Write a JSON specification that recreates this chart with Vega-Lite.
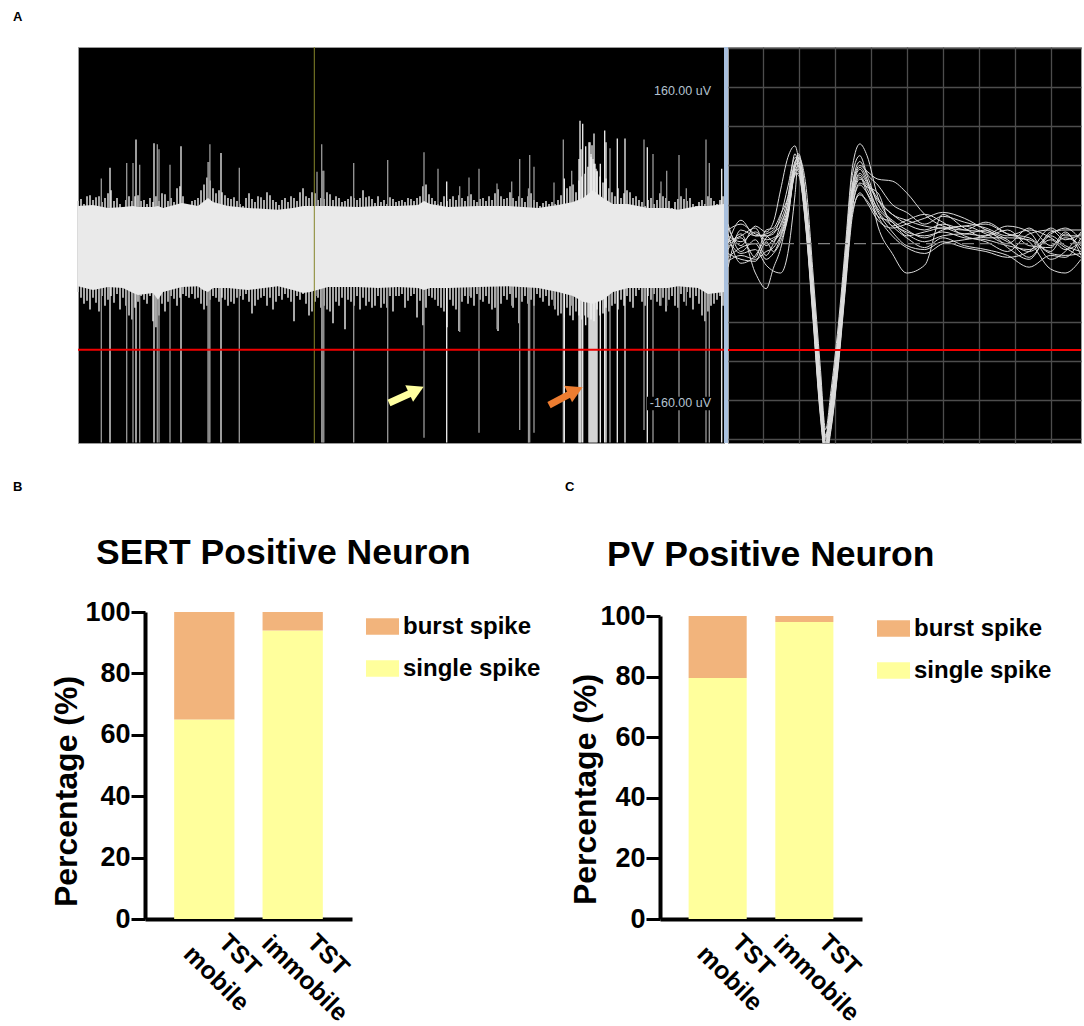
{"$schema":"https://vega.github.io/schema/vega-lite/v6.json","padding":{"left":12,"top":10,"right":0,"bottom":0},"background":"white","config":{"font":"Liberation Sans","view":{"stroke":null}},
"datasets":{
"tips":[{"t":0,"hi":47,"lo":-46},{"t":3,"hi":49,"lo":-52},{"t":6,"hi":44,"lo":-58},{"t":9,"hi":52,"lo":-55},{"t":12,"hi":53,"lo":-64},{"t":15,"hi":48,"lo":-52},{"t":18,"hi":51,"lo":-57},{"t":21,"hi":52,"lo":-66},{"t":24,"hi":46,"lo":-50},{"t":27,"hi":50,"lo":-60},{"t":30,"hi":55,"lo":-54},{"t":33,"hi":58,"lo":-50},{"t":36,"hi":47,"lo":-57},{"t":39,"hi":50,"lo":-48},{"t":42,"hi":44,"lo":-64},{"t":45,"hi":41,"lo":-52},{"t":48,"hi":48,"lo":-60},{"t":51,"hi":52,"lo":-70},{"t":54,"hi":47,"lo":-74},{"t":57,"hi":52,"lo":-62},{"t":60,"hi":53,"lo":-56},{"t":63,"hi":47,"lo":-50},{"t":66,"hi":48,"lo":-54},{"t":69,"hi":44,"lo":-58},{"t":72,"hi":50,"lo":-50},{"t":75,"hi":46,"lo":-76},{"t":78,"hi":52,"lo":-82},{"t":81,"hi":47,"lo":-70},{"t":84,"hi":55,"lo":-58},{"t":87,"hi":54,"lo":-66},{"t":90,"hi":47,"lo":-56},{"t":93,"hi":50,"lo":-50},{"t":96,"hi":46,"lo":-53},{"t":99,"hi":60,"lo":-60},{"t":102,"hi":62,"lo":-52},{"t":105,"hi":52,"lo":-48},{"t":108,"hi":44,"lo":-50},{"t":111,"hi":42,"lo":-52},{"t":114,"hi":47,"lo":-48},{"t":117,"hi":48,"lo":-53},{"t":120,"hi":50,"lo":-52},{"t":123,"hi":58,"lo":-58},{"t":126,"hi":64,"lo":-64},{"t":129,"hi":71,"lo":-60},{"t":132,"hi":68,"lo":-54},{"t":135,"hi":60,"lo":-50},{"t":138,"hi":55,"lo":-52},{"t":141,"hi":58,"lo":-56},{"t":144,"hi":56,"lo":-52},{"t":147,"hi":53,"lo":-54},{"t":150,"hi":50,"lo":-60},{"t":153,"hi":49,"lo":-56},{"t":156,"hi":51,"lo":-58},{"t":159,"hi":47,"lo":-52},{"t":162,"hi":44,"lo":-50},{"t":165,"hi":42,"lo":-54},{"t":168,"hi":50,"lo":-48},{"t":171,"hi":55,"lo":-56},{"t":174,"hi":49,"lo":-68},{"t":177,"hi":46,"lo":-60},{"t":180,"hi":52,"lo":-54},{"t":183,"hi":51,"lo":-52},{"t":186,"hi":48,"lo":-50},{"t":189,"hi":56,"lo":-60},{"t":192,"hi":53,"lo":-52},{"t":195,"hi":48,"lo":-64},{"t":198,"hi":46,"lo":-56},{"t":201,"hi":43,"lo":-50},{"t":204,"hi":48,"lo":-54},{"t":207,"hi":50,"lo":-48},{"t":210,"hi":46,"lo":-52},{"t":213,"hi":52,"lo":-56},{"t":216,"hi":50,"lo":-76},{"t":219,"hi":47,"lo":-50},{"t":222,"hi":56,"lo":-54},{"t":225,"hi":60,"lo":-48},{"t":228,"hi":52,"lo":-58},{"t":231,"hi":50,"lo":-70},{"t":234,"hi":56,"lo":-66},{"t":237,"hi":55,"lo":-56},{"t":240,"hi":48,"lo":-52},{"t":243,"hi":50,"lo":-62},{"t":246,"hi":49,"lo":-60},{"t":249,"hi":56,"lo":-64},{"t":252,"hi":54,"lo":-66},{"t":255,"hi":48,"lo":-78},{"t":258,"hi":52,"lo":-56},{"t":261,"hi":50,"lo":-60},{"t":264,"hi":46,"lo":-52},{"t":267,"hi":47,"lo":-84},{"t":270,"hi":49,"lo":-54},{"t":273,"hi":52,"lo":-56},{"t":276,"hi":50,"lo":-60},{"t":279,"hi":48,"lo":-50},{"t":282,"hi":50,"lo":-64},{"t":285,"hi":58,"lo":-52},{"t":288,"hi":51,"lo":-60},{"t":291,"hi":52,"lo":-56},{"t":294,"hi":49,"lo":-62},{"t":297,"hi":45,"lo":-60},{"t":300,"hi":52,"lo":-50},{"t":303,"hi":46,"lo":-62},{"t":306,"hi":48,"lo":-58},{"t":309,"hi":44,"lo":-62},{"t":312,"hi":51,"lo":-50},{"t":315,"hi":49,"lo":-66},{"t":318,"hi":46,"lo":-50},{"t":321,"hi":47,"lo":-50},{"t":324,"hi":48,"lo":-48},{"t":327,"hi":46,"lo":-62},{"t":330,"hi":50,"lo":-55},{"t":333,"hi":49,"lo":-50},{"t":336,"hi":47,"lo":-48},{"t":339,"hi":50,"lo":-72},{"t":342,"hi":52,"lo":-55},{"t":345,"hi":62,"lo":-80},{"t":348,"hi":64,"lo":-62},{"t":351,"hi":54,"lo":-50},{"t":354,"hi":50,"lo":-52},{"t":357,"hi":47,"lo":-54},{"t":360,"hi":44,"lo":-60},{"t":363,"hi":46,"lo":-62},{"t":366,"hi":52,"lo":-66},{"t":369,"hi":47,"lo":-82},{"t":372,"hi":49,"lo":-54},{"t":375,"hi":52,"lo":-60},{"t":378,"hi":48,"lo":-64},{"t":381,"hi":53,"lo":-86},{"t":384,"hi":50,"lo":-56},{"t":387,"hi":47,"lo":-50},{"t":390,"hi":52,"lo":-58},{"t":393,"hi":54,"lo":-52},{"t":396,"hi":48,"lo":-60},{"t":399,"hi":46,"lo":-48},{"t":402,"hi":49,"lo":-54},{"t":405,"hi":50,"lo":-56},{"t":408,"hi":47,"lo":-50},{"t":411,"hi":52,"lo":-58},{"t":414,"hi":48,"lo":-64},{"t":417,"hi":55,"lo":-62},{"t":420,"hi":59,"lo":-86},{"t":423,"hi":52,"lo":-58},{"t":426,"hi":49,"lo":-50},{"t":429,"hi":50,"lo":-54},{"t":432,"hi":56,"lo":-48},{"t":435,"hi":50,"lo":-62},{"t":438,"hi":47,"lo":-52},{"t":441,"hi":52,"lo":-78},{"t":444,"hi":50,"lo":-56},{"t":447,"hi":46,"lo":-50},{"t":450,"hi":52,"lo":-58},{"t":453,"hi":55,"lo":-54},{"t":456,"hi":48,"lo":-60},{"t":459,"hi":46,"lo":-48},{"t":462,"hi":42,"lo":-52},{"t":465,"hi":45,"lo":-56},{"t":468,"hi":47,"lo":-50},{"t":471,"hi":44,"lo":-60},{"t":474,"hi":46,"lo":-54},{"t":477,"hi":44,"lo":-64},{"t":480,"hi":48,"lo":-70},{"t":483,"hi":53,"lo":-68},{"t":486,"hi":58,"lo":-72},{"t":489,"hi":60,"lo":-62},{"t":492,"hi":62,"lo":-70},{"t":495,"hi":64,"lo":-75},{"t":498,"hi":56,"lo":-66},{"t":501,"hi":68,"lo":-70},{"t":504,"hi":72,"lo":-74},{"t":507,"hi":75,"lo":-70},{"t":510,"hi":82,"lo":-72},{"t":513,"hi":92,"lo":-74},{"t":516,"hi":85,"lo":-76},{"t":519,"hi":78,"lo":-64},{"t":522,"hi":72,"lo":-70},{"t":525,"hi":66,"lo":-68},{"t":528,"hi":70,"lo":-62},{"t":531,"hi":60,"lo":-66},{"t":534,"hi":56,"lo":-60},{"t":537,"hi":52,"lo":-58},{"t":540,"hi":60,"lo":-64},{"t":543,"hi":50,"lo":-54},{"t":546,"hi":55,"lo":-60},{"t":549,"hi":58,"lo":-50},{"t":552,"hi":56,"lo":-56},{"t":555,"hi":50,"lo":-62},{"t":558,"hi":52,"lo":-50},{"t":561,"hi":48,"lo":-44},{"t":564,"hi":46,"lo":-56},{"t":567,"hi":42,"lo":-60},{"t":570,"hi":48,"lo":-50},{"t":573,"hi":50,"lo":-54},{"t":576,"hi":44,"lo":-48},{"t":579,"hi":48,"lo":-56},{"t":582,"hi":55,"lo":-60},{"t":585,"hi":52,"lo":-52},{"t":588,"hi":50,"lo":-66},{"t":591,"hi":47,"lo":-54},{"t":594,"hi":40,"lo":-50},{"t":597,"hi":46,"lo":-60},{"t":600,"hi":49,"lo":-62},{"t":603,"hi":52,"lo":-48},{"t":606,"hi":49,"lo":-56},{"t":609,"hi":47,"lo":-46},{"t":612,"hi":50,"lo":-52},{"t":615,"hi":44,"lo":-64},{"t":618,"hi":42,"lo":-50},{"t":621,"hi":46,"lo":-58},{"t":624,"hi":48,"lo":-70},{"t":627,"hi":44,"lo":-76},{"t":630,"hi":52,"lo":-66},{"t":633,"hi":50,"lo":-60},{"t":636,"hi":47,"lo":-58},{"t":639,"hi":44,"lo":-54},{"t":642,"hi":48,"lo":-50},{"t":645,"hi":52,"lo":-60}],
"spikes":[{"t":23.3,"top":70,"bottom":-200,"tone":"dim"},{"t":32,"top":81,"bottom":-200,"tone":"bright"},{"t":48.7,"top":86,"bottom":-200,"tone":"dim"},{"t":55,"top":86,"bottom":-200,"tone":"dim"},{"t":58,"top":110,"bottom":-200,"tone":"bright"},{"t":61.7,"top":84,"bottom":-200,"tone":"dim"},{"t":76,"top":106,"bottom":-200,"tone":"bright"},{"t":79.3,"top":105,"bottom":-200,"tone":"dim"},{"t":81,"top":100,"bottom":-200,"tone":"dim"},{"t":92,"top":84,"bottom":-200,"tone":"dim"},{"t":103,"top":103,"bottom":-200,"tone":"bright"},{"t":130,"top":87,"bottom":-200,"tone":"dim"},{"t":131,"top":87,"bottom":-200,"tone":"dim"},{"t":131.9,"top":105,"bottom":-200,"tone":"dim"},{"t":143,"top":96,"bottom":-200,"tone":"bright"},{"t":161.3,"top":81,"bottom":-200,"tone":"dim"},{"t":239,"top":77,"bottom":-50,"tone":"dim"},{"t":243.7,"top":105,"bottom":-200,"tone":"dim"},{"t":244.8,"top":78,"bottom":-200,"tone":"dim"},{"t":245.8,"top":78,"bottom":-200,"tone":"dim"},{"t":275.7,"top":86,"bottom":-200,"tone":"dim"},{"t":309.7,"top":89,"bottom":-200,"tone":"dim"},{"t":346,"top":97,"bottom":-195,"tone":"dim"},{"t":360,"top":80,"bottom":-60,"tone":"dim"},{"t":368.7,"top":67,"bottom":-200,"tone":"bright"},{"t":381.7,"top":62,"bottom":-87,"tone":"dim"},{"t":391,"top":71,"bottom":-50,"tone":"dim"},{"t":401,"top":80,"bottom":-190,"tone":"dim"},{"t":419,"top":65,"bottom":-84,"tone":"dim"},{"t":433.7,"top":67,"bottom":-60,"tone":"dim"},{"t":441.7,"top":90,"bottom":-187,"tone":"dim"},{"t":450.5,"top":60,"bottom":-200,"tone":"dim"},{"t":451.7,"top":94,"bottom":-200,"tone":"dim"},{"t":456,"top":82,"bottom":-190,"tone":"dim"},{"t":476,"top":66,"bottom":-60,"tone":"dim"},{"t":485.3,"top":110,"bottom":-200,"tone":"dim"},{"t":486.3,"top":70,"bottom":-200,"tone":"bright"},{"t":493.7,"top":78,"bottom":-60,"tone":"dim"},{"t":501,"top":90,"bottom":-200,"tone":"bright"},{"t":502,"top":129,"bottom":-200,"tone":"bright"},{"t":503,"top":100,"bottom":-200,"tone":"bright"},{"t":504.7,"top":126,"bottom":-200,"tone":"bright"},{"t":507.7,"top":103,"bottom":-80,"tone":"bright"},{"t":511,"top":107,"bottom":-200,"tone":"bright"},{"t":512,"top":107,"bottom":-200,"tone":"bright"},{"t":513,"top":95,"bottom":-200,"tone":"bright"},{"t":514,"top":104,"bottom":-200,"tone":"bright"},{"t":515,"top":90,"bottom":-200,"tone":"bright"},{"t":516,"top":116,"bottom":-200,"tone":"bright"},{"t":517,"top":85,"bottom":-200,"tone":"bright"},{"t":518,"top":80,"bottom":-200,"tone":"bright"},{"t":519,"top":77,"bottom":-200,"tone":"bright"},{"t":522.3,"top":85,"bottom":-200,"tone":"bright"},{"t":526.7,"top":119,"bottom":-200,"tone":"bright"},{"t":528,"top":107,"bottom":-200,"tone":"bright"},{"t":532,"top":101,"bottom":-200,"tone":"dim"},{"t":539.3,"top":111,"bottom":-200,"tone":"bright"},{"t":547,"top":111,"bottom":-200,"tone":"bright"},{"t":566,"top":110,"bottom":-187,"tone":"dim"},{"t":569.3,"top":102,"bottom":-200,"tone":"bright"},{"t":575,"top":95,"bottom":-200,"tone":"dim"},{"t":583,"top":67,"bottom":-60,"tone":"dim"},{"t":588.7,"top":78,"bottom":-60,"tone":"dim"},{"t":601,"top":94,"bottom":-200,"tone":"dim"},{"t":608.3,"top":60,"bottom":-60,"tone":"dim"},{"t":628,"top":110,"bottom":-200,"tone":"dim"},{"t":631.3,"top":86,"bottom":-200,"tone":"dim"},{"t":643.7,"top":80,"bottom":-200,"tone":"bright"}],
"band":[{"t":0,"top":42,"bottom":-40},{"t":15,"top":43,"bottom":-44},{"t":30,"top":40,"bottom":-41},{"t":45,"top":41,"bottom":-42},{"t":55,"top":42,"bottom":-47},{"t":60,"top":41,"bottom":-49},{"t":75,"top":41,"bottom":-47},{"t":80,"top":42,"bottom":-54},{"t":85,"top":40,"bottom":-46},{"t":100,"top":44,"bottom":-42},{"t":104,"top":45,"bottom":-41},{"t":120,"top":42,"bottom":-40},{"t":125,"top":46,"bottom":-44},{"t":130,"top":50,"bottom":-46},{"t":135,"top":46,"bottom":-42},{"t":150,"top":42,"bottom":-42},{"t":170,"top":40,"bottom":-44},{"t":200,"top":38,"bottom":-40},{"t":215,"top":40,"bottom":-44},{"t":225,"top":42,"bottom":-47},{"t":232,"top":42,"bottom":-46},{"t":250,"top":42,"bottom":-41},{"t":280,"top":41,"bottom":-41},{"t":300,"top":42,"bottom":-42},{"t":320,"top":42,"bottom":-41},{"t":340,"top":43,"bottom":-42},{"t":346,"top":47,"bottom":-44},{"t":352,"top":44,"bottom":-42},{"t":370,"top":41,"bottom":-42},{"t":400,"top":42,"bottom":-41},{"t":430,"top":42,"bottom":-40},{"t":460,"top":40,"bottom":-42},{"t":480,"top":43,"bottom":-46},{"t":495,"top":46,"bottom":-50},{"t":505,"top":50,"bottom":-56},{"t":515,"top":58,"bottom":-58},{"t":525,"top":50,"bottom":-54},{"t":535,"top":44,"bottom":-46},{"t":550,"top":44,"bottom":-42},{"t":570,"top":40,"bottom":-42},{"t":590,"top":40,"bottom":-42},{"t":600,"top":38,"bottom":-40},{"t":620,"top":42,"bottom":-42},{"t":630,"top":42,"bottom":-48},{"t":646,"top":44,"bottom":-46}],
"waves":[{"x":0.04,"a":14,"b":8,"c":-3,"d":20,"e":-10,"f":-24,"g":5,"h":2,"i":-14,"j":10,"k":-6,"l":16,"m":0,"n":-18},{"x":0.4,"a":20,"b":2,"c":6,"d":-8,"e":-16,"f":14,"g":-10,"h":8,"i":-4,"j":-20,"k":10,"l":-2,"m":24,"n":-12},{"x":0.8,"a":10,"b":12,"c":-14,"d":4,"e":-18,"f":8,"g":-6,"h":16,"i":0,"j":-12,"k":-30,"l":18,"m":8,"n":-16},{"x":1.1,"a":8,"b":4,"c":14,"d":-12,"e":2,"f":10,"g":-22,"h":-2,"i":-16,"j":6,"k":-46,"l":12,"m":8,"n":-8},{"x":1.3,"a":10,"b":6,"c":16,"d":0,"e":-8,"f":14,"g":-28,"h":4,"i":-10,"j":12,"k":-25,"l":22,"m":2,"n":-4},{"x":1.5,"a":28,"b":12,"c":30,"d":14,"e":6,"f":24,"g":-30,"h":10,"i":2,"j":18,"k":-5,"l":55,"m":20,"n":8},{"x":1.7,"a":58,"b":34,"c":48,"d":36,"e":28,"f":46,"g":-10,"h":30,"i":26,"j":42,"k":30,"l":88,"m":40,"n":32},{"x":1.9,"a":88,"b":78,"c":92,"d":72,"e":70,"f":84,"g":50,"h":74,"i":72,"j":82,"k":78,"l":100,"m":80,"n":76},{"x":2.0,"a":84,"b":92,"c":78,"d":76,"e":72,"f":88,"g":88,"h":80,"i":70,"j":90,"k":84,"l":86,"m":82,"n":74},{"x":2.2,"a":30,"b":46,"c":20,"d":34,"e":24,"f":40,"g":60,"h":28,"i":16,"j":44,"k":36,"l":22,"m":32,"n":18},{"x":2.4,"a":-60,"b":-40,"c":-72,"d":-54,"e":-66,"f":-48,"g":-30,"h":-64,"i":-78,"j":-44,"k":-56,"l":-70,"m":-58,"n":-74},{"x":2.6,"a":-160,"b":-135,"c":-170,"d":-150,"e":-165,"f":-142,"g":-125,"h":-158,"i":-175,"j":-140,"k":-152,"l":-168,"m":-148,"n":-172},{"x":2.75,"a":-208,"b":-198,"c":-215,"d":-203,"e":-210,"f":-196,"g":-190,"h":-206,"i":-218,"j":-198,"k":-204,"l":-212,"m":-200,"n":-216},{"x":2.9,"a":-175,"b":-160,"c":-185,"d":-168,"e":-178,"f":-158,"g":-150,"h":-172,"i":-190,"j":-162,"k":-170,"l":-182,"m":-165,"n":-188},{"x":3.1,"a":-112,"b":-95,"c":-120,"d":-104,"e":-116,"f":-92,"g":-84,"h":-108,"i":-126,"j":-98,"k":-106,"l":-118,"m":-100,"n":-124},{"x":3.3,"a":-30,"b":-14,"c":-40,"d":-24,"e":-34,"f":-10,"g":-2,"h":-26,"i":-46,"j":-16,"k":-26,"l":-38,"m":-20,"n":-42},{"x":3.5,"a":50,"b":62,"c":38,"d":52,"e":44,"f":72,"g":80,"h":48,"i":30,"j":60,"k":54,"l":40,"m":56,"n":34},{"x":3.7,"a":72,"b":84,"c":62,"d":70,"e":66,"f":90,"g":102,"h":68,"i":52,"j":80,"k":76,"l":60,"m":78,"n":50},{"x":3.9,"a":62,"b":70,"c":58,"d":56,"e":60,"f":72,"g":90,"h":52,"i":42,"j":74,"k":64,"l":52,"m":66,"n":44},{"x":4.2,"a":44,"b":40,"c":52,"d":36,"e":34,"f":60,"g":48,"h":28,"i":24,"j":66,"k":46,"l":32,"m":18,"n":28},{"x":4.6,"a":30,"b":24,"c":18,"d":22,"e":18,"f":40,"g":22,"h":8,"i":16,"j":64,"k":30,"l":12,"m":-10,"n":22},{"x":5.0,"a":20,"b":14,"c":24,"d":10,"e":6,"f":32,"g":12,"h":-4,"i":20,"j":52,"k":24,"l":-2,"m":-30,"n":8},{"x":5.5,"a":14,"b":6,"c":30,"d":2,"e":-4,"f":20,"g":8,"h":-10,"i":26,"j":30,"k":18,"l":-6,"m":-22,"n":12},{"x":6.0,"a":20,"b":14,"c":22,"d":8,"e":6,"f":28,"g":12,"h":0,"i":32,"j":18,"k":16,"l":2,"m":30,"n":16},{"x":6.6,"a":14,"b":18,"c":8,"d":10,"e":-2,"f":22,"g":6,"h":4,"i":26,"j":14,"k":18,"l":-4,"m":16,"n":10},{"x":7.2,"a":12,"b":20,"c":2,"d":8,"e":-6,"f":16,"g":4,"h":8,"i":14,"j":22,"k":10,"l":-8,"m":6,"n":14},{"x":7.8,"a":2,"b":10,"c":-8,"d":14,"e":-12,"f":8,"g":-2,"h":18,"i":4,"j":10,"k":0,"l":-14,"m":6,"n":-4},{"x":8.4,"a":-8,"b":6,"c":10,"d":-2,"e":-24,"f":14,"g":-6,"h":12,"i":-14,"j":2,"k":16,"l":-8,"m":4,"n":-16},{"x":9.0,"a":4,"b":-8,"c":14,"d":-4,"e":-12,"f":6,"g":10,"h":-16,"i":8,"j":-26,"k":-2,"l":16,"m":-10,"n":12},{"x":9.4,"a":-6,"b":10,"c":4,"d":12,"e":-14,"f":-4,"g":16,"h":-8,"i":-2,"j":-30,"k":6,"l":8,"m":-12,"n":14},{"x":9.84,"a":2,"b":-6,"c":10,"d":-12,"e":6,"f":-14,"g":4,"h":12,"i":-8,"j":-16,"k":-2,"l":8,"m":-10,"n":14}]
},
"vconcat":[
{"hconcat":[
{"width":646,"height":396,"view":{"fill":"black","stroke":"#9a9a9a"},
"title":{"text":"A","anchor":"start","frame":"group","dx":-65,"offset":21,"fontSize":13,"fontWeight":"bold","color":"black"},
"encoding":{"x":{"field":"t","type":"quantitative","axis":null,"scale":{"domain":[0,646],"nice":false}}},
"layer":[
{"data":{"name":"tips"},"mark":{"type":"rule","strokeWidth":1.6,"color":"#d2d2d2"},"encoding":{"y":{"field":"lo","type":"quantitative","axis":null,"scale":{"domain":[-200.4,204.5],"nice":false}},"y2":{"field":"hi"}}},
{"data":{"name":"spikes"},"mark":{"type":"rule","strokeWidth":1.3},"encoding":{"y":{"field":"bottom","type":"quantitative","axis":null,"scale":{"domain":[-200.4,204.5],"nice":false}},"y2":{"field":"top"},"color":{"field":"tone","type":"nominal","legend":null,"scale":{"domain":["bright","dim","yellow arrow","orange arrow"],"range":["#f2f2f2","#9a9a9a","#FFFFA0","#ED7D31"]}}}},
{"data":{"name":"band"},"mark":{"type":"area","color":"#EAEAEA"},"encoding":{"y":{"field":"bottom","type":"quantitative","axis":null,"scale":{"domain":[-200.4,204.5],"nice":false}},"y2":{"field":"top"}}},
{"data":{"values":[{"t":236.3}]},"mark":{"type":"rule","color":"#85852a","strokeWidth":1},"encoding":{}},
{"data":{"values":[{"t":569,"t2":634,"hi":-153,"lo":-167}]},"mark":{"type":"rect","color":"black"},"encoding":{"x2":{"field":"t2"},"y":{"field":"lo","type":"quantitative","axis":null,"scale":{"domain":[-200.4,204.5],"nice":false}},"y2":{"field":"hi"}}},
{"data":{"values":[{"t":633,"v":160,"label":"160.00 uV"},{"t":633,"v":-160,"label":"-160.00 uV"}]},"mark":{"type":"text","align":"right","baseline":"middle","fontSize":12.5,"color":"#b4c2d0"},"encoding":{"y":{"field":"v","type":"quantitative","axis":null,"scale":{"domain":[-200.4,204.5],"nice":false}},"text":{"field":"label"}}},
{"data":{"values":[{"t":311,"t2":338,"v":-159.5,"v2":-147,"tone":"yellow arrow"},{"t":471,"t2":497,"v":-161.6,"v2":-147.5,"tone":"orange arrow"}]},"mark":{"type":"rule","strokeWidth":7},"encoding":{"x2":{"field":"t2"},"y":{"field":"v","type":"quantitative","axis":null,"scale":{"domain":[-200.4,204.5],"nice":false}},"y2":{"field":"v2"},"color":{"field":"tone","type":"nominal","legend":null}}},
{"data":{"values":[{"t":336,"v":-147.5,"tone":"yellow arrow"},{"t":495,"v":-148,"tone":"orange arrow"}]},"mark":{"type":"point","shape":"triangle","filled":true,"size":340,"angle":65,"opacity":1},"encoding":{"y":{"field":"v","type":"quantitative","axis":null,"scale":{"domain":[-200.4,204.5],"nice":false}},"color":{"field":"tone","type":"nominal","legend":null}}},
{"data":{"values":[{"t":648}]},"mark":{"type":"rule","color":"#A9C0DE","strokeWidth":4},"encoding":{}},
{"data":{"values":[{"t":0,"t2":646,"v":-105}]},"mark":{"type":"rule","color":"#f00000","strokeWidth":2},"encoding":{"x2":{"field":"t2"},"y":{"field":"v","type":"quantitative","axis":null,"scale":{"domain":[-200.4,204.5],"nice":false}}}}
]},
{"width":353,"height":396,"view":{"fill":"black","stroke":"#9a9a9a"},
"encoding":{"x":{"field":"x","type":"quantitative","scale":{"domain":[0.04,9.84],"nice":false},"axis":{"values":[1,2,3,4,5,6,7,8,9],"labels":false,"ticks":false,"domain":false,"title":null,"grid":true,"gridColor":"#4d4d4d","gridWidth":1.3}}},
"layer":[
{"data":{"name":"waves"},"transform":[{"fold":["a","b","c","d","e","f","g","h","i","j","k","l","m","n"],"as":["unit","amp"]}],"mark":{"type":"line","interpolate":"monotone","clip":true,"strokeWidth":1,"color":"#dcdcdc"},"encoding":{"y":{"field":"amp","type":"quantitative","scale":{"domain":[-203.8,201.1],"nice":false},"axis":{"values":[-200,-160,-120,-80,-40,40,80,120,160,200],"labels":false,"ticks":false,"domain":false,"title":null,"grid":true,"gridColor":"#4d4d4d","gridWidth":1.3}},"detail":{"field":"unit"}}},
{"data":{"values":[{"x":0.04,"x2":9.84,"amp":0}]},"mark":{"type":"rule","color":"#808080","strokeWidth":1.2,"strokeDash":[12,6]},"encoding":{"x2":{"field":"x2"},"y":{"field":"amp","type":"quantitative","scale":{"domain":[-203.8,201.1],"nice":false}}}},
{"data":{"values":[{"x":0.04,"x2":9.84,"amp":-108.7}]},"mark":{"type":"rule","color":"#f00000","strokeWidth":2},"encoding":{"x2":{"field":"x2"},"y":{"field":"amp","type":"quantitative","scale":{"domain":[-203.8,201.1],"nice":false}}}}
]}
],"spacing":4,"bounds":"flush","resolve":{"scale":{"color":"independent"}}},
{"hconcat":[
{"width":67,"height":1,"title":{"text":"B","anchor":"start","frame":"group","dx":-65,"dy":-109,"fontSize":13,"fontWeight":"bold","color":"black"},"data":{"values":[{"blank":""}]},"mark":{"type":"text"},"encoding":{"text":{"field":"blank"}}},
{"width":207,"height":307,"title":{"text":"SERT Positive Neuron","anchor":"start","frame":"group","dx":-49,"offset":27,"fontSize":35.5,"fontWeight":"bold","color":"black"},
"data":{"values":[{"g":"TST mobile","spike":"single spike","pct":65},{"g":"TST mobile","spike":"burst spike","pct":35},{"g":"TST immobile","spike":"single spike","pct":94},{"g":"TST immobile","spike":"burst spike","pct":6}]},
"mark":{"type":"bar"},
"encoding":{"x":{"field":"g","type":"nominal","sort":null,"title":null,"scale":{"paddingInner":0.318,"paddingOuter":0.33},"axis":{"ticks":false,"domainWidth":4,"domainColor":"black","labelExpr":"split(datum.label,' ')","labelAngle":45,"labelAlign":"center","labelBaseline":"top","labelFontSize":25,"labelFontWeight":"bold","labelColor":"black","labelLineHeight":33,"labelOffset":44,"labelPadding":27,"labelLimit":400,"labelOverlap":false}},
"y":{"field":"pct","type":"quantitative","stack":"zero","title":"Percentage (%)","scale":{"domain":[0,100]},"axis":{"values":[0,20,40,60,80,100],"grid":false,"domainWidth":4,"domainColor":"black","tickColor":"black","tickWidth":3,"tickSize":14,"labelFontSize":27,"labelFontWeight":"bold","labelColor":"black","labelPadding":1,"titleFontSize":32,"titleFontWeight":"bold","titleColor":"black","titleX":-62,"titleY":179}},
"color":{"field":"spike","type":"nominal","scale":{"domain":["burst spike","single spike"],"range":["#F2B47C","#FFFF9C"]},"legend":{"orient":"none","legendX":221,"legendY":-2,"title":null,"symbolType":"M-1,-0.5H1V0.5H-1Z","symbolSize":1089,"symbolStrokeWidth":0,"labelFontSize":24,"labelFontWeight":"bold","labelColor":"black","labelOffset":4,"rowPadding":13,"labelLimit":300}},
"order":{"field":"spike","sort":"descending"}}},
{"width":308,"height":1,"title":{"text":"C","anchor":"start","frame":"group","dx":213,"dy":-109,"fontSize":13,"fontWeight":"bold","color":"black"},"data":{"values":[{"blank":""}]},"mark":{"type":"text"},"encoding":{"text":{"field":"blank"}}},
{"vconcat":[
{"width":1,"height":4,"data":{"values":[{"blank":""}]},"mark":{"type":"text"},"encoding":{"text":{"field":"blank"}}},
{"width":202,"height":303,"title":{"text":"PV Positive Neuron","anchor":"start","frame":"group","dx":-53,"offset":29,"fontSize":35.5,"fontWeight":"bold","color":"black"},
"data":{"values":[{"g":"TST mobile","spike":"single spike","pct":79.5},{"g":"TST mobile","spike":"burst spike","pct":20.5},{"g":"TST immobile","spike":"single spike","pct":98},{"g":"TST immobile","spike":"burst spike","pct":2}]},
"mark":{"type":"bar"},
"encoding":{"x":{"field":"g","type":"nominal","sort":null,"title":null,"scale":{"paddingInner":0.33,"paddingOuter":0.33},"axis":{"ticks":false,"domainWidth":4,"domainColor":"black","labelExpr":"split(datum.label,' ')","labelAngle":45,"labelAlign":"center","labelBaseline":"top","labelFontSize":25,"labelFontWeight":"bold","labelColor":"black","labelLineHeight":33,"labelOffset":44,"labelPadding":27,"labelLimit":400,"labelOverlap":false}},
"y":{"field":"pct","type":"quantitative","stack":"zero","title":"Percentage (%)","scale":{"domain":[0,100]},"axis":{"values":[0,20,40,60,80,100],"grid":false,"domainWidth":4,"domainColor":"black","tickColor":"black","tickWidth":3,"tickSize":14,"labelFontSize":27,"labelFontWeight":"bold","labelColor":"black","labelPadding":1,"titleFontSize":32,"titleFontWeight":"bold","titleColor":"black","titleX":-58,"titleY":173}},
"color":{"field":"spike","type":"nominal","scale":{"domain":["burst spike","single spike"],"range":["#F2B47C","#FFFF9C"]},"legend":{"orient":"none","legendX":217,"legendY":-4,"title":null,"symbolType":"M-1,-0.5H1V0.5H-1Z","symbolSize":1089,"symbolStrokeWidth":0,"labelFontSize":24,"labelFontWeight":"bold","labelColor":"black","labelOffset":4,"rowPadding":13,"labelLimit":300}},
"order":{"field":"spike","sort":"descending"}}}
],"spacing":0,"bounds":"flush","resolve":{"scale":{"color":"independent"}}}
],"spacing":0,"bounds":"flush","resolve":{"scale":{"color":"independent"}}}
],"spacing":565,"bounds":"flush","resolve":{"scale":{"color":"independent"}}}
